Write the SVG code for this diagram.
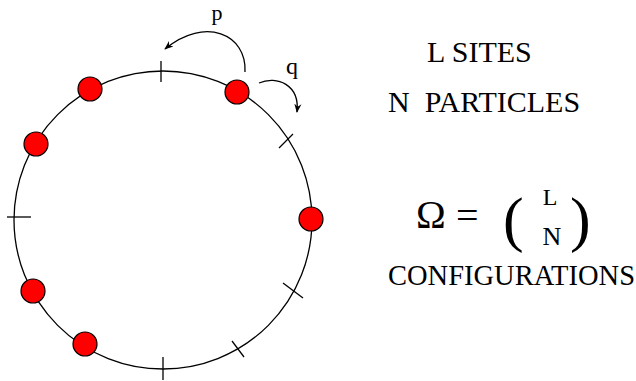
<svg xmlns="http://www.w3.org/2000/svg" width="636" height="381" viewBox="0 0 636 381">
<style>
.t{font-family:"Liberation Serif","Times New Roman",serif;fill:#000}
.ln{fill:none;stroke:#000;stroke-width:1.3}
.pt{fill:#f00;stroke:#000;stroke-width:1.2}
</style>
<defs>
<marker id="ah" viewBox="0 0 10 10" refX="9" refY="5" markerWidth="9" markerHeight="9" markerUnits="userSpaceOnUse" orient="auto">
<path d="M0,1 L10,5 L0,9 L3,5 Z" fill="#000"/>
</marker>
</defs>
<rect width="636" height="381" fill="#fff"/>
<g id="ring">
<circle class="ln" cx="163" cy="220" r="149"/>
<line class="ln" x1="161" y1="61" x2="161" y2="82"/>
<line class="ln" x1="279" y1="148" x2="293" y2="134"/>
<line class="ln" x1="7" y1="217" x2="31" y2="217"/>
<line class="ln" x1="283" y1="283" x2="303" y2="298"/>
<line class="ln" x1="232" y1="341" x2="244" y2="357"/>
<line class="ln" x1="163" y1="357" x2="163" y2="380"/>
</g>
<g id="particles">
<circle class="pt" cx="90" cy="89" r="12"/>
<circle class="pt" cx="36" cy="144" r="12"/>
<circle class="pt" cx="237" cy="92" r="12"/>
<circle class="pt" cx="311" cy="219" r="12"/>
<circle class="pt" cx="33" cy="291" r="12"/>
<circle class="pt" cx="85" cy="344" r="12"/>
</g>
<g id="connectors">
<path class="ln" d="M245,72 C247,34 205,16 165,49" marker-end="url(#ah)"/>
<path class="ln" d="M259,83 C277,75 300,85 297,112" marker-end="url(#ah)"/>
</g>
<g id="labels">
<text class="t" x="217" y="20" font-size="22" text-anchor="middle">p</text>
<text class="t" x="292" y="74" font-size="24" text-anchor="middle">q</text>
<text class="t" x="427" y="62" font-size="30">L SITES</text>
<text class="t" x="388" y="112" font-size="30" xml:space="preserve">N  PARTICLES</text>
<text class="t" x="416" y="228" font-size="40">Ω</text>
<text class="t" x="456" y="229" font-size="40">=</text>
<text class="t" x="503" y="240" font-size="62">(</text>
<text class="t" x="570" y="240" font-size="62">)</text>
<text class="t" x="550" y="205" font-size="24" text-anchor="middle">L</text>
<text class="t" x="552" y="245" font-size="26" text-anchor="middle">N</text>
<text class="t" x="388" y="285" font-size="28.5">CONFIGURATIONS</text>
</g>
</svg>
